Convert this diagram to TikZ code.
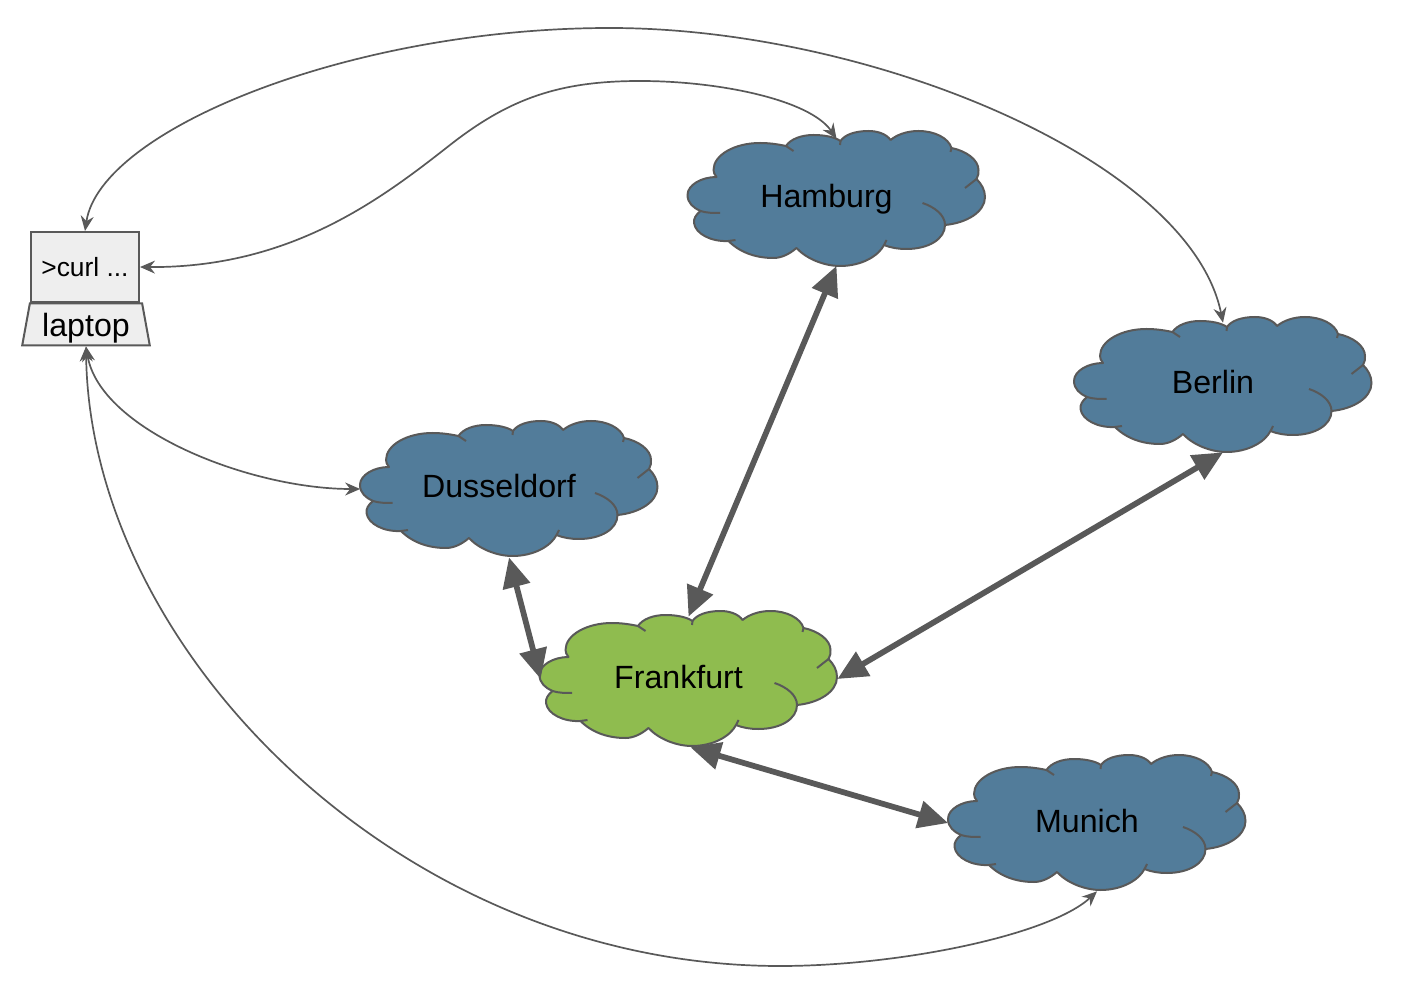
\documentclass[tikz,border=0pt]{standalone}
\usepackage{fontspec}
\setmainfont{Liberation Sans}
\usetikzlibrary{arrows.meta,shapes.geometric}

\definecolor{edgegray}{HTML}{595959}
\definecolor{cityblue}{HTML}{527C9A}
\definecolor{hubgreen}{HTML}{8FBC4F}
\definecolor{laptopgray}{HTML}{EEEEEE}

\tikzset{
  cityshape/.style={fill=#1,draw=edgegray,line width=0.4mm,line join=round},
  citylabel/.style={rectangle,inner sep=0pt,minimum width=59.4mm,minimum height=27.2mm,
    font=\fontsize{18.3}{20}\selectfont,text height=4.8mm,text depth=1.2mm,
    execute at end node={\hspace{4mm}}},
  laptoppart/.style={fill=laptopgray,draw=edgegray,line width=0.4mm,inner sep=0pt},
  backbone/.style={edgegray,line width=1.15mm,
    {Triangle[length=6mm,width=5.4mm]}-{Triangle[length=6mm,width=5.4mm]}},
  request/.style={edgegray,line width=0.34mm,
    {Stealth[length=3mm,width=2.6mm,inset=1mm]}-{Stealth[length=3mm,width=2.6mm,inset=1mm]}},
}

% name, x, y, label, colour
\newcommand{\citycloud}[5]{
  \begin{scope}[shift={(#2,#3)}]
    \draw[cityshape=#5] (-120,-22) .. controls (-135,-22) and (-149,-14) .. (-149,-4)
      .. controls (-149,4) and (-143,9) .. (-136,12)
      .. controls (-141,16) and (-143,20) .. (-142.5,24)
      .. controls (-141,35) and (-125,43) .. (-108,42)
      .. controls (-95,55) and (-78,59) .. (-63,59)
      .. controls (-55,59) and (-47,55) .. (-40,49)
      .. controls (-30,60) and (-12,67) .. (3.5,67)
      .. controls (25,67) and (42,57) .. (47.5,46)
      .. controls (55,49) and (62,50) .. (70,50)
      .. controls (92,50) and (108.5,40) .. (108.5,26)
      .. controls (130,24) and (148.5,13) .. (148.5,-2)
      .. controls (148.5,-9) and (145,-15) .. (140,-20)
      .. controls (142,-23) and (142,-26) .. (142,-29)
      .. controls (142,-39) and (130,-48) .. (115,-51)
      .. controls (112,-61) and (98,-68) .. (82,-68)
      .. controls (70,-68) and (60,-64) .. (54,-59)
      .. controls (50,-65) and (41,-68) .. (32,-68)
      .. controls (18,-68) and (8,-64) .. (4,-58)
      .. controls (-2,-62) and (-12,-64) .. (-23,-64)
      .. controls (-35,-64) and (-46,-60) .. (-50.5,-53)
      .. controls (-60,-55) and (-68,-56) .. (-76.5,-56)
      .. controls (-102,-56) and (-123,-44) .. (-123,-29)
      .. controls (-123,-27) and (-122,-24) .. (-120,-22) -- cycle;
    \draw[edgegray,line width=0.4mm] (-136,12) .. controls (-130,14) and (-123,14) .. (-116.5,14);
    \draw[edgegray,line width=0.4mm] (-108,42) -- (-101,41);
    \draw[edgegray,line width=0.4mm] (47.5,46) -- (50,41);
    \draw[edgegray,line width=0.4mm] (108.5,26) .. controls (108.5,16) and (98,8) .. (86,4);
    \draw[edgegray,line width=0.4mm] (140,-20) -- (128.5,-11);
    \draw[edgegray,line width=0.4mm] (115,-51) -- (114,-47);
    \draw[edgegray,line width=0.4mm] (4,-58) -- (3.5,-54);
    \draw[edgegray,line width=0.4mm] (-50.5,-53) -- (-43,-48);
  \end{scope}
  \node[citylabel] (#1) at (#2,#3) {#4};
}

\begin{document}
\begin{tikzpicture}[x=0.2mm,y=-0.2mm]
  \useasboundingbox (0,0) rectangle (1412,992);

  \citycloud{hamburg}{836.5}{199}{Hamburg}{cityblue}
  \citycloud{berlin}{1223}{385}{Berlin}{cityblue}
  \citycloud{dusseldorf}{509}{489}{Dusseldorf}{cityblue}
  \citycloud{frankfurt}{688.5}{679}{Frankfurt}{hubgreen}
  \citycloud{munich}{1097}{823}{Munich}{cityblue}

  \node[laptoppart,rectangle,minimum width=21.6mm,minimum height=14mm,
    font=\fontsize{15}{17}\selectfont] (screen) at (85,267) {>curl ...};
  \node[laptoppart,trapezium,trapezium angle=76,trapezium stretches=true,
    minimum width=25.6mm,minimum height=8.4mm,text height=4.8mm,text depth=0mm,
    font=\fontsize{18.3}{20}\selectfont] (laptop) at (86,324.5) {laptop};

  \draw[backbone] ([yshift=-1.2mm]frankfurt.north) -- ([yshift=0.3mm]hamburg.south);
  \draw[backbone] (frankfurt.east) -- ([yshift=0.2mm]berlin.south);
  \draw[backbone] ([xshift=0.2mm]frankfurt.west) -- (dusseldorf.south);
  \draw[backbone] ([xshift=0.4mm]frankfurt.south) -- (munich.west);

  \draw[request] (screen.north) .. controls (100,130) and (350,28) .. (610,28)
    .. controls (870,28) and (1190,160) .. ([yshift=-1.2mm]berlin.north);
  \draw[request] (screen.east) .. controls (290,268) and (380,200) .. (450,145)
    .. controls (510,98) and (560,81) .. (640,81)
    .. controls (720,81) and (810,100) .. ([yshift=-1.6mm]hamburg.north);
  \draw[request] (laptop.south) .. controls (100,430) and (250,489) .. (dusseldorf.west);
  \draw[request] (laptop.south) .. controls (90,650) and (400,966) .. (780,966)
    .. controls (900,966) and (1050,935) .. (munich.south);
\end{tikzpicture}
\end{document}
